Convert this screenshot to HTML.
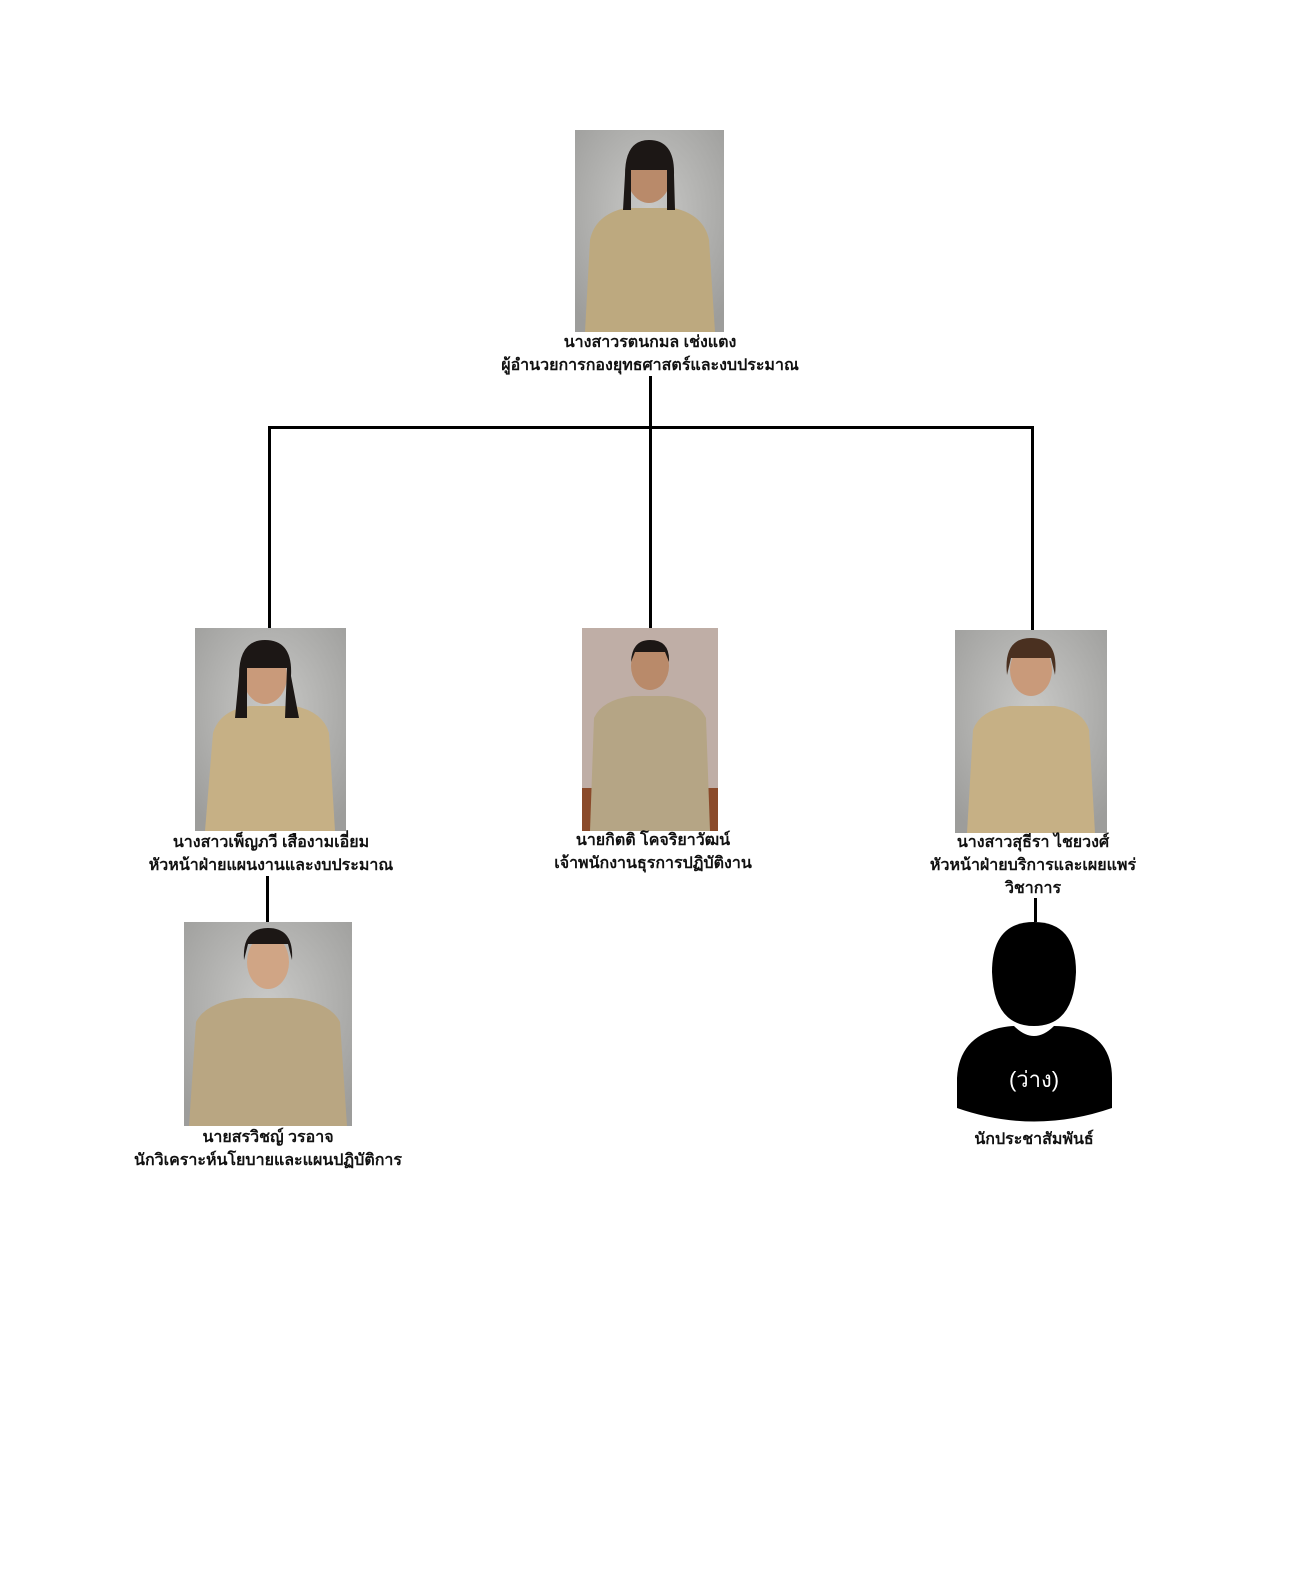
<!DOCTYPE html>
<html><head><meta charset="utf-8"><style>
body{margin:0;background:#fff;width:1300px;height:1583px;position:relative;overflow:hidden;font-family:"Liberation Sans","Noto Sans CJK SC","WenQuanYi Zen Hei",sans-serif}
.t{position:absolute;font-weight:bold;font-size:16px;color:#111;text-align:center;line-height:23px;white-space:nowrap;transform:translateX(-50%)}
.l{position:absolute;background:#000}
.p{position:absolute;overflow:hidden}
</style></head><body>
<svg width="0" height="0" style="position:absolute"><defs>
<radialGradient id="bg" cx="50%" cy="40%" r="70%"><stop offset="0" stop-color="#c9c9c7"/><stop offset="1" stop-color="#9d9d9b"/></radialGradient>
</defs></svg>

<!-- connectors -->
<div class="l" style="left:649px;top:376px;width:3px;height:52px"></div>
<div class="l" style="left:269px;top:426px;width:764px;height:3px"></div>
<div class="l" style="left:268px;top:426px;width:3px;height:202px"></div>
<div class="l" style="left:649px;top:426px;width:3px;height:202px"></div>
<div class="l" style="left:1031px;top:426px;width:3px;height:204px"></div>
<div class="l" style="left:266px;top:876px;width:3px;height:48px"></div>
<div class="l" style="left:1034px;top:898px;width:3px;height:24px"></div>

<!-- photos -->
<svg class="p" style="left:575px;top:130px" width="149" height="202" viewBox="0 0 149 202"><rect width="149" height="202" fill="url(#bg)"/><path d="M10 202 L15 110 Q20 85 50 78 L99 78 Q129 85 134 110 L140 202Z" fill="#bda97f"/><ellipse cx="74" cy="45" rx="22" ry="28" fill="#b98a6a"/><path d="M50 45 Q50 10 74 10 Q100 10 99 45 L100 80 L92 80 L92 40 L56 40 L56 80 L48 80Z" fill="#1c1715"/></svg>
<svg class="p" style="left:195px;top:628px" width="151" height="203" viewBox="0 0 151 203"><rect width="151" height="203" fill="url(#bg)"/><path d="M10 203 L18 105 Q25 82 55 78 L100 78 Q128 84 134 105 L140 203Z" fill="#c6b085"/><ellipse cx="70" cy="48" rx="22" ry="28" fill="#c99a7a"/><path d="M44 48 Q44 12 70 12 Q98 12 96 48 L104 90 L90 90 L92 40 L52 40 L52 90 L40 90Z" fill="#1c1715"/></svg>
<svg class="p" style="left:582px;top:628px" width="136" height="203" viewBox="0 0 136 203"><rect width="136" height="203" fill="#bfaea6"/><rect y="160" width="136" height="43" fill="#8a4a2a"/><path d="M8 203 L12 90 Q20 72 50 68 L86 68 Q116 72 124 90 L128 203Z" fill="#b5a585"/><ellipse cx="68" cy="38" rx="19" ry="24" fill="#b98a6a"/><path d="M49 34 Q50 12 68 12 Q88 12 87 34 L83 24 L53 24Z" fill="#1c1715"/></svg>
<svg class="p" style="left:955px;top:630px" width="152" height="203" viewBox="0 0 152 203"><rect width="152" height="203" fill="url(#bg)"/><path d="M12 203 L18 100 Q25 80 55 76 L100 76 Q128 80 134 100 L140 203Z" fill="#c6b085"/><ellipse cx="76" cy="40" rx="21" ry="26" fill="#c99a7a"/><path d="M52 45 Q48 8 76 8 Q104 8 100 45 L96 28 L56 28Z" fill="#4a3020"/></svg>
<svg class="p" style="left:184px;top:922px" width="168" height="204" viewBox="0 0 168 204"><rect width="168" height="204" fill="url(#bg)"/><path d="M5 204 L12 100 Q22 80 60 76 L108 76 Q146 80 156 100 L163 204Z" fill="#b9a682"/><ellipse cx="84" cy="40" rx="21" ry="27" fill="#d0a585"/><path d="M60 38 Q58 6 84 6 Q110 6 108 38 L104 22 L64 22Z" fill="#1c1715"/></svg>

<!-- silhouette -->
<svg class="p" style="left:954px;top:920px" width="162" height="215" viewBox="0 0 162 215">
<path d="M38 52 Q38 2 80 2 Q122 2 122 52 Q120 106 80 106 Q40 106 38 52Z" fill="#000"/>
<path d="M3 188 L3 158 Q5 118 45 108 Q55 106 60 106 Q70 116 80 116 Q90 116 100 106 Q110 106 120 108 Q158 118 158 158 L158 188 Q80 215 3 188Z" fill="#000"/>
<text x="80" y="167" text-anchor="middle" fill="#fff" font-size="22" font-family="Liberation Sans,Noto Sans CJK SC,sans-serif">(ว่าง)</text>
</svg>

<!-- labels -->
<div class="t" style="left:650px;top:331px">นางสาวรตนกมล เช่งแตง<br>ผู้อำนวยการกองยุทธศาสตร์และงบประมาณ</div>
<div class="t" style="left:271px;top:831px">นางสาวเพ็ญภวี เสืองามเอี่ยม<br>หัวหน้าฝ่ายแผนงานและงบประมาณ</div>
<div class="t" style="left:653px;top:829px">นายกิตติ โคจริยาวัฒน์<br>เจ้าพนักงานธุรการปฏิบัติงาน</div>
<div class="t" style="left:1033px;top:831px">นางสาวสุธีรา ไชยวงศ์<br>หัวหน้าฝ่ายบริการและเผยแพร่<br>วิชาการ</div>
<div class="t" style="left:268px;top:1126px">นายสรวิชญ์ วรอาจ<br>นักวิเคราะห์นโยบายและแผนปฏิบัติการ</div>
<div class="t" style="left:1034px;top:1128px">นักประชาสัมพันธ์</div>
</body></html>
